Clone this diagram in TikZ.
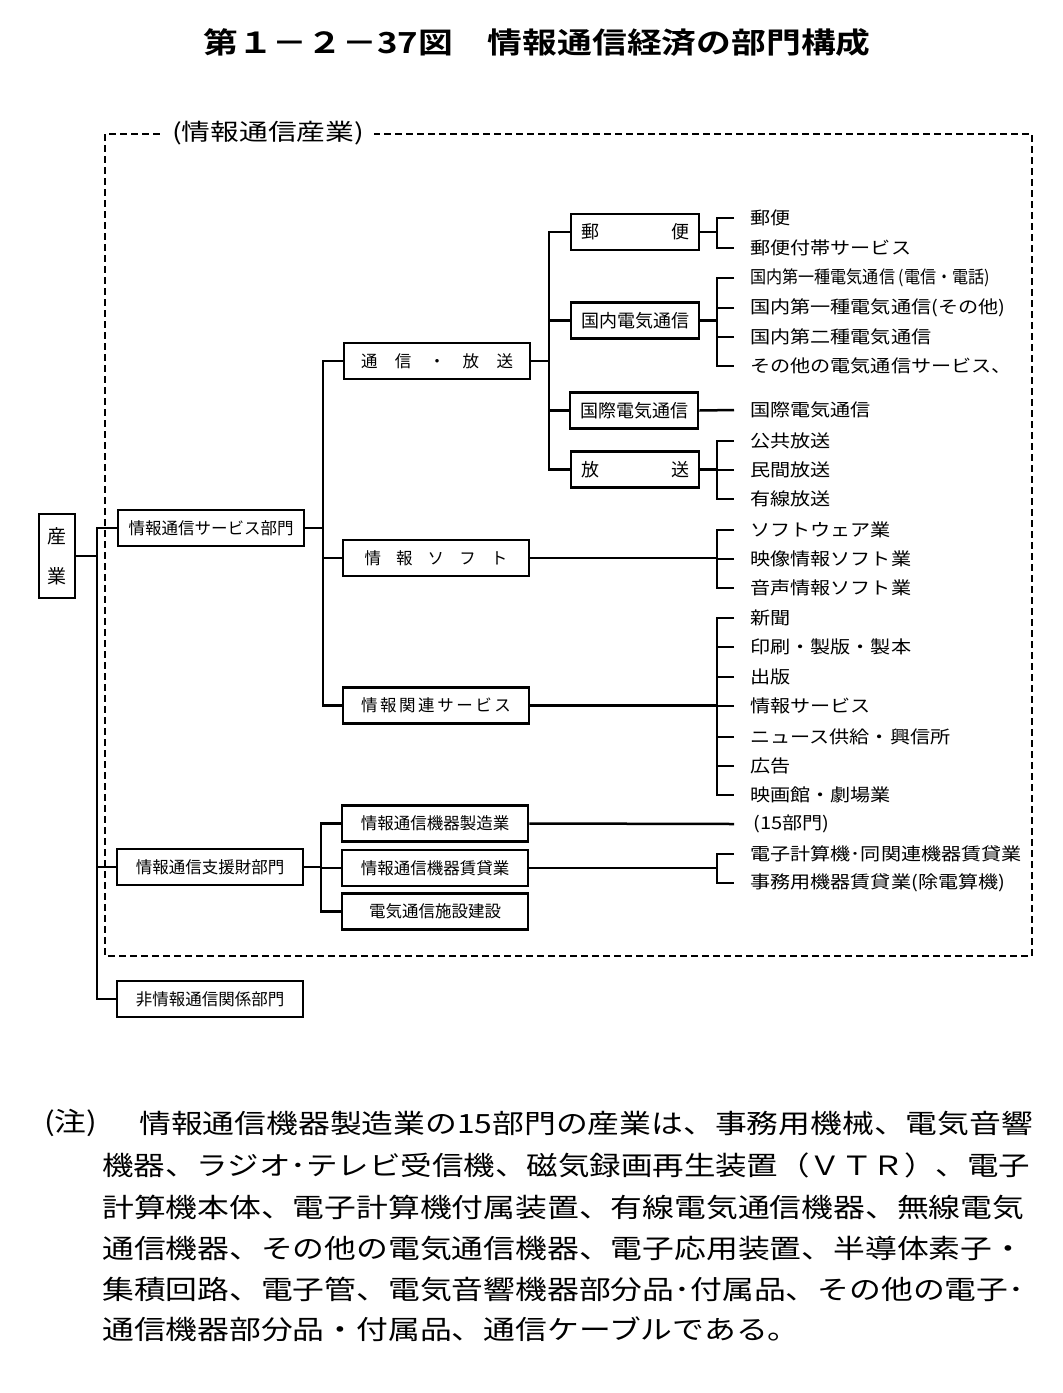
\documentclass[tikz,border=0pt]{standalone}
\usepackage{fontspec}
\setmainfont{Noto Sans CJK JP}
\newfontfamily\titlefont[FakeStretch=1.2]{Noto Sans CJK JP Bold}
\newfontfamily\leaffont[FakeStretch=1.15]{Noto Sans CJK JP}
\newfontfamily\notefont[FakeStretch=1.2]{Noto Sans CJK JP}
\newfontfamily\labelfont[FakeStretch=1.25]{Noto Sans CJK JP}

\newcommand\unittextstyle{\fontsize{16.5}{16.5}\selectfont}
\newcommand\smalltextstyle{\fontsize{18}{18}\selectfont}
\newcommand\leaftextstyle{\leaffont\fontsize{17.5}{17.5}\selectfont}
\newcommand\notetextstyle{\notefont\fontsize{26.5}{26.5}\selectfont}
\newcommand\leafx{734}

\tikzset{
  unit/.style={draw, line width=2.8pt, minimum height=36pt, inner sep=0pt, font=\unittextstyle},
  wideunit/.style={unit, minimum width=186pt},
  smallunit/.style={unit, minimum width=128pt, font=\smalltextstyle},
  leaf/.style={anchor=west, inner xsep=16pt, inner ysep=0pt, font=\leaftextstyle},
  noteline/.style={anchor=west, inner sep=0pt, font=\notetextstyle},
  link/.style={line width=2.5pt},
  industryframe/.style={line width=1.8pt, dash pattern=on 7pt off 4pt},
}

\begin{document}
\begin{tikzpicture}[x=1pt, y=-1pt]
  \useasboundingbox (0,0) rectangle (1063,1393);

  \node[font=\titlefont\fontsize{29}{29}\selectfont] (title) at (537,43) {第１－２－37図　情報通信経済の部門構成};

  % frame of the information industry
  \node[inner sep=0pt, font=\labelfont\fontsize{23}{23}\selectfont] (framelabel) at (268,133) {(情報通信産業)};
  \coordinate (fnw) at (105,134);
  \coordinate (fse) at (1032,956);
  \draw[industryframe] ([xshift=-12pt]framelabel.west |- fnw) -- (fnw) |- (fse) |- ([xshift=10pt]framelabel.east |- fnw);

  % first level
  \node[unit, minimum width=36pt, minimum height=84pt, align=center, font=\fontsize{19}{40}\selectfont] (sangyo) at (57,556) {産\\業};
  \node[wideunit] (svc) at (211,528) {情報通信サービス部門};
  \node[wideunit] (supp) at (210,867) {情報通信支援財部門};
  \node[wideunit] (nonict) at (210,999) {非情報通信関係部門};

  \coordinate (trunkA) at (97,528);
  \draw[link] (sangyo.east) -- (sangyo.east -| trunkA);
  \draw[link] (svc.west) -- (trunkA) |- (nonict.west);
  \draw[link] (supp.west -| trunkA) -- (supp.west);

  % service sector
  \node[wideunit] (tsushin) at (437,361) {\makebox[152pt]{通\hfill 信\hfill ・\hfill 放\hfill 送}};
  \node[wideunit] (soft) at (436,558) {\makebox[143pt]{情\hfill 報\hfill ソ\hfill フ\hfill ト}};
  \node[wideunit] (kanren) at (436,705.5) {\makebox[150pt]{情\hfill 報\hfill 関\hfill 連\hfill サ\hfill ー\hfill ビ\hfill ス}};

  \coordinate (trunkB) at (323,361);
  \draw[link] (svc.east) -- (svc.east -| trunkB);
  \draw[link] (tsushin.west) -- (trunkB) |- (kanren.west);
  \draw[link] (soft.west -| trunkB) -- (soft.west);

  \node[smallunit] (yubin) at (635,232) {\makebox[108pt]{郵\hfill 便}};
  \node[smallunit] (kokunai) at (635,320.5) {国内電気通信};
  \node[smallunit] (kokusai) at (634,410.5) {国際電気通信};
  \node[smallunit] (hoso) at (635,469.5) {\makebox[108pt]{放\hfill 送}};

  \coordinate (trunkC) at (549,232);
  \draw[link] (tsushin.east) -- (tsushin.east -| trunkC);
  \draw[link] (yubin.west) -- (trunkC) |- (hoso.west);
  \draw[link] (kokunai.west -| trunkC) -- (kokunai.west);
  \draw[link] (kokusai.west -| trunkC) -- (kokusai.west);

  % support sector
  \node[wideunit] (seizo) at (435,823.5) {情報通信機器製造業};
  \node[wideunit] (chintai) at (435,868) {情報通信機器賃貸業};
  \node[wideunit] (kensetsu) at (435,911.5) {電気通信施設建設};

  \coordinate (trunkS) at (321,823.5);
  \draw[link] (supp.east) -- (supp.east -| trunkS);
  \draw[link] (seizo.west) -- (trunkS) |- (kensetsu.west);
  \draw[link] (chintai.west -| trunkS) -- (chintai.west);

  % leaves
  \foreach \n/\y/\t in {yb1/218/郵便, yb2/248/郵便付帯サービス,
      kn1/278/{\scalebox{0.8}[1]{国内第一種電気通信 (電信・電話)}}, kn2/308/国内第一種電気通信(その他),
      kn3/337/国内第二種電気通信, kn4/366/その他の電気通信サービス、,
      ks1/410/国際電気通信,
      hs1/441/公共放送, hs2/470/民間放送, hs3/499/有線放送,
      sf1/530/ソフトウェア業, sf2/559/映像情報ソフト業, sf3/588/音声情報ソフト業,
      kr1/618/新聞, kr2/647/印刷・製版・製本, kr3/677/出版, kr4/706/情報サービス,
      kr5/737/ニュース供給・興信所, kr6/766/広告, kr7/795/映画館・劇場業,
      ct1/854/電子計算機･同関連機器賃貸業, ct2/883/事務用機器賃貸業(除電算機)}
    \node[leaf] (\n) at (\leafx,\y) {\t};
  \node[leaf, inner xsep=19pt] (sz1) at (\leafx,824) {(15部門)};

  \coordinate (brk) at (717,0);
  \draw[link] (yubin.east) -- (yubin.east -| brk);
  \draw[link] (yb1.west) -- (yb1.west -| brk) |- (yb2.west);

  \draw[link] (kokunai.east) -- (kokunai.east -| brk);
  \draw[link] (kn1.west) -- (kn1.west -| brk) |- (kn4.west);
  \draw[link] (kn2.west) -- (kn2.west -| brk);
  \draw[link] (kn3.west) -- (kn3.west -| brk);

  \draw[link] (kokusai.east) -- (ks1.west);

  \draw[link] (hoso.east) -- (hoso.east -| brk);
  \draw[link] (hs1.west) -- (hs1.west -| brk) |- (hs3.west);
  \draw[link] (hs2.west) -- (hs2.west -| brk);

  \draw[link] (soft.east) -- (soft.east -| brk);
  \draw[link] (sf1.west) -- (sf1.west -| brk) |- (sf3.west);
  \draw[link] (sf2.west) -- (sf2.west -| brk);

  \draw[link] (kanren.east) -- (kanren.east -| brk);
  \draw[link] (kr1.west) -- (kr1.west -| brk) |- (kr7.west);
  \foreach \n in {kr2,kr3,kr4,kr5,kr6}
    \draw[link] (\n.west) -- (\n.west -| brk);

  \draw[link] (seizo.east) -- (sz1.west);

  \draw[link] (chintai.east) -- (chintai.east -| brk);
  \draw[link] (ct1.west) -- (ct1.west -| brk) |- (ct2.west);

  % note
  \node[noteline] (notemark) at (44,1123) {(注)};
  \node[noteline] (note1) at (139,1123) {情報通信機器製造業の15部門の産業は、事務用機械、電気音響};
  \node[noteline] (note2) at (102,1165) {\scalebox{0.99}[1]{機器、ラジオ･テレビ受信機、磁気録画再生装置（ＶＴＲ）、電子}};
  \node[noteline] (note3) at (102,1207) {計算機本体、電子計算機付属装置、有線電気通信機器、無線電気};
  \node[noteline] (note4) at (102,1248) {通信機器、その他の電気通信機器、電子応用装置、半導体素子・};
  \node[noteline] (note5) at (102,1289) {集積回路、電子管、電気音響機器部分品･付属品、その他の電子･};
  \node[noteline] (note6) at (102,1329) {通信機器部分品・付属品、通信ケーブルである。};
\end{tikzpicture}
\end{document}
